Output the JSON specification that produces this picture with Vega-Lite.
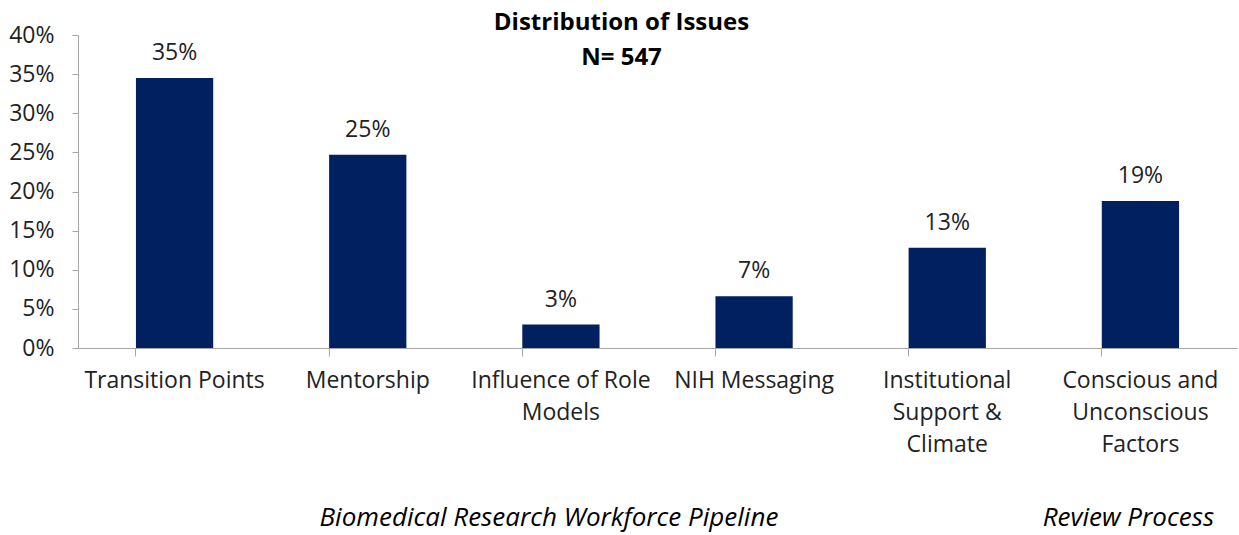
{
  "$schema": "https://vega.github.io/schema/vega-lite/v6.json",
  "autosize": "none",
  "padding": {"left": 78, "top": 35, "right": 2, "bottom": 187},
  "width": 1159,
  "height": 313,
  "background": "white",
  "title": {
    "text": ["Distribution of Issues", "N= 547"],
    "font": "Open Sans",
    "fontSize": 24,
    "fontWeight": "bold",
    "color": "#000000",
    "lineHeight": 35,
    "anchor": "middle",
    "offset": -46,
    "dx": -36
  },
  "config": {
    "view": {"stroke": null},
    "font": "Open Sans"
  },
  "encoding": {
    "x": {
      "field": "category",
      "type": "nominal",
      "sort": ["Transition Points", "Mentorship", "Influence of Role Models", "NIH Messaging", "Institutional Support & Climate", "Conscious and Unconscious Factors"],
      "scale": {"paddingInner": 0.6, "paddingOuter": 0.3},
      "axis": {
        "title": null,
        "labelAngle": 0,
        "labelFont": "Open Sans",
        "labelFontSize": 23,
        "labelColor": "#222222",
        "labelLineHeight": 32,
        "labelPadding": 13,
        "labelBaseline": "top",
        "labelLimit": 300,
        "labelOverlap": false,
        "domainColor": "#a6a6a6",
        "tickColor": "#a6a6a6",
        "tickSize": 8,
        "bandPosition": 0,
        "labelExpr": "datum.value == 'Influence of Role Models' ? ['Influence of Role', 'Models'] : datum.value == 'Institutional Support & Climate' ? ['Institutional', 'Support &', 'Climate'] : datum.value == 'Conscious and Unconscious Factors' ? ['Conscious and', 'Unconscious', 'Factors'] : datum.value"
      }
    }
  },
  "layer": [
    {
      "data": {
        "values": [
          {"category": "Transition Points", "share": 0.345, "label": "35%"},
          {"category": "Mentorship", "share": 0.247, "label": "25%"},
          {"category": "Influence of Role Models", "share": 0.030, "label": "3%"},
          {"category": "NIH Messaging", "share": 0.066, "label": "7%"},
          {"category": "Institutional Support & Climate", "share": 0.128, "label": "13%"},
          {"category": "Conscious and Unconscious Factors", "share": 0.188, "label": "19%"}
        ]
      },
      "encoding": {
        "y": {
          "field": "share",
          "type": "quantitative",
          "scale": {"domain": [0, 0.4]},
          "axis": {
            "title": null,
            "format": ".0%",
            "values": [0, 0.05, 0.1, 0.15, 0.2, 0.25, 0.3, 0.35, 0.4],
            "tickCount": 20,
            "labelOverlap": false,
            "grid": false,
            "labelFont": "Open Sans",
            "labelFontSize": 23,
            "labelColor": "#222222",
            "labelPadding": 18,
            "domainColor": "#a6a6a6",
            "tickColor": "#a6a6a6",
            "tickSize": 6
          }
        }
      },
      "layer": [
        {
          "mark": {"type": "bar", "color": "#002060"}
        },
        {
          "mark": {"type": "text", "baseline": "alphabetic", "dy": -18, "font": "Open Sans", "fontSize": 23, "color": "#222222"},
          "encoding": {
            "text": {"field": "label"}
          }
        }
      ]
    },
    {
      "data": {
        "values": [
          {"category": "Influence of Role Models", "group": "Biomedical Research Workforce Pipeline"},
          {"category": "Conscious and Unconscious Factors", "group": "Review Process"}
        ]
      },
      "mark": {"type": "text", "font": "Open Sans", "fontSize": 26, "fontStyle": "italic", "color": "#000000", "baseline": "middle", "dx": -12},
      "encoding": {
        "y": {"value": 483},
        "text": {"field": "group"}
      }
    }
  ]
}
